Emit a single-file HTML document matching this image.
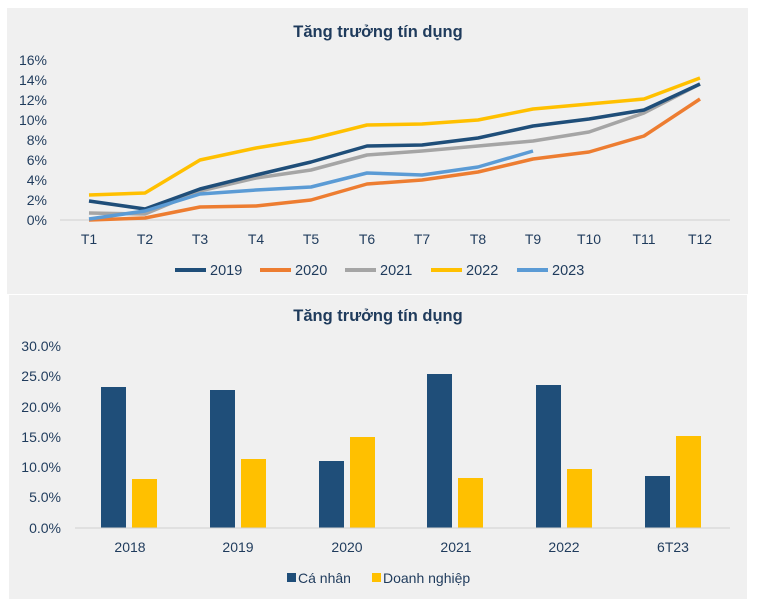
<!DOCTYPE html>
<html><head><meta charset="utf-8"><style>
html,body{margin:0;padding:0;background:#fff;width:757px;height:599px;overflow:hidden}
svg text{font-family:"Liberation Sans",sans-serif;fill:#1f3b5c}
</style></head><body>
<svg width="757" height="599" xmlns="http://www.w3.org/2000/svg">
<rect x="7" y="8" width="741" height="286" fill="#f0f0f0"/>
<rect x="9" y="295" width="738" height="304" fill="#f0f0f0"/>
<text x="378" y="37" text-anchor="middle" font-size="16.5" font-weight="bold" fill="#1f3b5c">Tăng trưởng tín dụng</text>
<g font-size="14" text-anchor="end">
<text x="47" y="65">16%</text><text x="47" y="85">14%</text><text x="47" y="105">12%</text><text x="47" y="125">10%</text><text x="47" y="145">8%</text><text x="47" y="165">6%</text><text x="47" y="185">4%</text><text x="47" y="205">2%</text><text x="47" y="225">0%</text>
</g>
<line x1="60" y1="220" x2="730" y2="220" stroke="#d0d0d0" stroke-width="1"/>
<g font-size="14" text-anchor="middle">
<text x="89" y="244">T1</text><text x="145" y="244">T2</text><text x="200" y="244">T3</text><text x="256" y="244">T4</text><text x="311" y="244">T5</text><text x="367" y="244">T6</text><text x="422" y="244">T7</text><text x="478" y="244">T8</text><text x="533" y="244">T9</text><text x="589" y="244">T10</text><text x="644" y="244">T11</text><text x="700" y="244">T12</text>
</g>
<g fill="none" stroke-width="3.5" stroke-linejoin="round">
<polyline stroke="#ed7d31" points="89,220 145,218 200,207 256,206 311,200 367,184 422,180 478,172 533,159 589,152 644,136 700,99"/>
<polyline stroke="#a5a5a5" points="89,213 145,214 200,191 256,178 311,170 367,155 422,151 478,146 533,141 589,132 644,113 700,84"/>
<polyline stroke="#1f4e79" points="89,201 145,209 200,189 256,175 311,162 367,146 422,145 478,138 533,126 589,119 644,110 700,84"/>
<polyline stroke="#ffc000" points="89,195 145,193 200,160 256,148 311,139 367,125 422,124 478,120 533,109 589,104 644,99 700,78"/>
<polyline stroke="#5b9bd5" points="89,219 145,211 200,194 256,190 311,187 367,173 422,175 478,167 533,151"/>
</g>
<g font-size="14.5">
<line x1="175" y1="270" x2="206" y2="270" stroke="#1f4e79" stroke-width="4"/><text x="210" y="275">2019</text>
<line x1="260" y1="270" x2="291" y2="270" stroke="#ed7d31" stroke-width="4"/><text x="295" y="275">2020</text>
<line x1="345" y1="270" x2="376" y2="270" stroke="#a5a5a5" stroke-width="4"/><text x="380" y="275">2021</text>
<line x1="431" y1="270" x2="462" y2="270" stroke="#ffc000" stroke-width="4"/><text x="466" y="275">2022</text>
<line x1="517" y1="270" x2="548" y2="270" stroke="#5b9bd5" stroke-width="4"/><text x="552" y="275">2023</text>
</g>
<text x="378" y="321" text-anchor="middle" font-size="16.5" font-weight="bold">Tăng trưởng tín dụng</text>
<g font-size="14" text-anchor="end">
<text x="61" y="351">30.0%</text><text x="61" y="381">25.0%</text><text x="61" y="412">20.0%</text><text x="61" y="442">15.0%</text><text x="61" y="472">10.0%</text><text x="61" y="502">5.0%</text><text x="61" y="533">0.0%</text>
</g>
<g>
<rect x="101" y="387" width="25" height="141" fill="#1f4e79"/><rect x="132" y="479" width="25" height="49" fill="#ffc000"/>
<rect x="210" y="390" width="25" height="138" fill="#1f4e79"/><rect x="241" y="459" width="25" height="69" fill="#ffc000"/>
<rect x="319" y="461" width="25" height="67" fill="#1f4e79"/><rect x="350" y="437" width="25" height="91" fill="#ffc000"/>
<rect x="427" y="374" width="25" height="154" fill="#1f4e79"/><rect x="458" y="478" width="25" height="50" fill="#ffc000"/>
<rect x="536" y="385" width="25" height="143" fill="#1f4e79"/><rect x="567" y="469" width="25" height="59" fill="#ffc000"/>
<rect x="645" y="476" width="25" height="52" fill="#1f4e79"/><rect x="676" y="436" width="25" height="92" fill="#ffc000"/>
</g>
<line x1="75" y1="528" x2="730" y2="528" stroke="#d0d0d0" stroke-width="1"/>
<g font-size="14" text-anchor="middle">
<text x="130" y="552">2018</text><text x="238" y="552">2019</text><text x="347" y="552">2020</text><text x="456" y="552">2021</text><text x="564" y="552">2022</text><text x="673" y="552">6T23</text>
</g>
<g font-size="14">
<rect x="287" y="573" width="9" height="9" fill="#1f4e79"/><text x="298" y="583">Cá nhân</text>
<rect x="372" y="573" width="9" height="9" fill="#ffc000"/><text x="383" y="583">Doanh nghiệp</text>
</g>
</svg>
</body></html>
